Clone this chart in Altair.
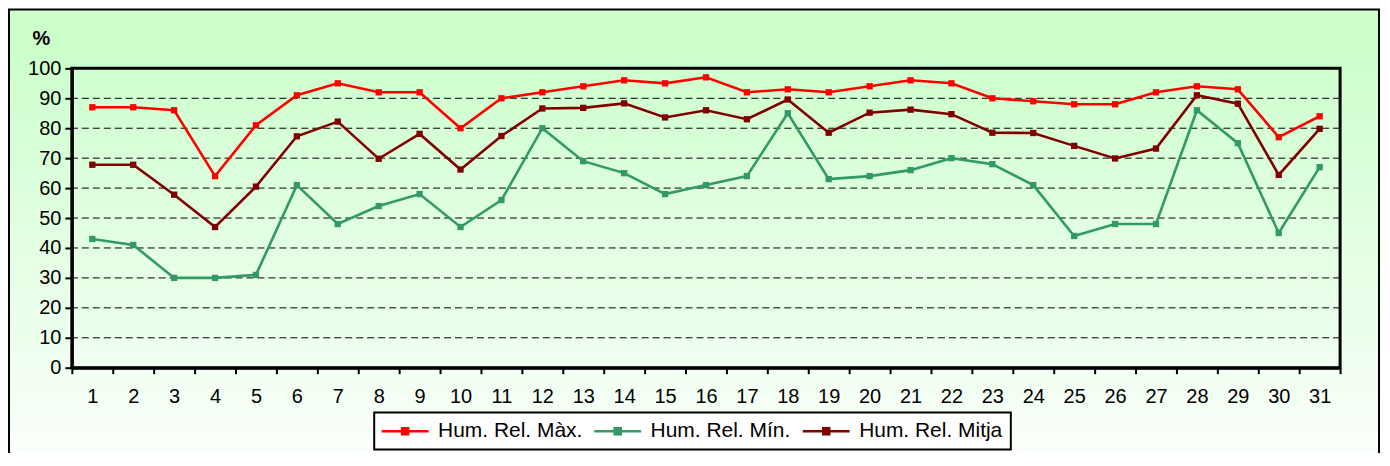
import altair as alt
import pandas as pd

# ---- data ----
days = list(range(1, 32))
hr_max = [87, 87, 86, 64, 81, 91, 95, 92, 92, 80, 90, 92, 94, 96, 95, 97,
          92, 93, 92, 94, 96, 95, 90, 89, 88, 88, 92, 94, 93, 77, 84]
hr_min = [43, 41, 30, 30, 31, 61, 48, 54, 58, 47, 56, 80, 69, 65, 58, 61,
          64, 85, 63, 64, 66, 70, 68, 61, 44, 48, 48, 86, 75, 45, 67]
hr_mean = [67.8, 67.8, 57.8, 47.0, 60.5, 77.3, 82.2, 69.8, 78.1, 66.2, 77.4,
           86.6, 86.8, 88.3, 83.6, 86.0, 83.0, 89.6, 78.5, 85.2, 86.2, 84.7,
           78.5, 78.4, 74.1, 69.9, 73.2, 91.0, 88.2, 64.4, 79.8]
series_names = ["Hum. Rel. Màx.", "Hum. Rel. Mín.", "Hum. Rel. Mitja"]
series_colors = ["#ff0000", "#339966", "#800000"]
y_tick_values = list(range(0, 101, 10))
grid_values = list(range(10, 100, 10))

rows = []
for name, vals in zip(series_names, [hr_max, hr_min, hr_mean]):
    for d, v in zip(days, vals):
        rows.append({"day": d, "series": name, "value": v})
df = pd.DataFrame(rows)

W, H = 1271, 300
FONT = "Liberation Sans"

x_enc = alt.X(
    "day:O",
    scale=alt.Scale(type="band", paddingInner=0, paddingOuter=0),
    axis=alt.Axis(title=None, labelAngle=0, tickBand="extent", tickSize=6,
                  labelPadding=13, zindex=1),
)
y_enc = alt.Y(
    "value:Q",
    scale=alt.Scale(domain=[0, 100], nice=False, zero=True),
    axis=alt.Axis(values=y_tick_values, title="%", titleAngle=0,
                  titleX=-31, titleY=-24, titleAlign="center",
                  titleBaseline="alphabetic", titleFontWeight="bold",
                  titleFontSize=20, titleFont=FONT, titleColor="black",
                  tickSize=7, labelPadding=4, zindex=1),
)

# legend glyph: a line with a small square (unit = 7px)
legend_symbol = "M-1.57,0H5.14M1.36,-0.43H2.22V0.43H1.36Z"
color_scale = alt.Scale(domain=series_names, range=series_colors)

one = alt.Data(values=[{"k": 1}])

background = alt.Chart(one).mark_rect(
    fill=alt.Gradient(
        gradient="linear", x1=0, x2=0, y1=0, y2=1,
        stops=[alt.GradientStop(color="#ccffcc", offset=0),
               alt.GradientStop(color="#ccffcc", offset=0.08),
               alt.GradientStop(color="#ffffff", offset=1)],
    ),
    stroke="black", strokeWidth=2,
).encode(x=alt.value(-63), x2=alt.value(1310), y=alt.value(-59), y2=alt.value(420))

grid = alt.Chart(pd.DataFrame({"value": grid_values})).mark_rule(
    color="black", strokeWidth=1, strokeDash=[7, 4]
).encode(y=y_enc)

border = alt.Chart(one).mark_rect(
    fill="transparent", stroke="black", strokeWidth=3
).encode(x=alt.value(0), x2=alt.value(W), y=alt.value(0), y2=alt.value(H))

lines = alt.Chart(df).mark_line(strokeWidth=2.6).encode(
    x=x_enc, y=y_enc,
    color=alt.Color(
        "series:N", scale=color_scale,
        legend=alt.Legend(
            title=None, orient="none", direction="horizontal",
            legendX=303, legendY=345,
            symbolType=legend_symbol, symbolSize=196, symbolStrokeWidth=2.5,
            labelFont=FONT, labelFontSize=21, labelColor="black",
            labelOffset=35, columnPadding=6, padding=8,
            strokeColor="black", fillColor="white",
        ),
    ),
)

points = alt.Chart(df).mark_point(shape="square", filled=True, size=40, opacity=1).encode(
    x=x_enc, y=y_enc,
    color=alt.Color("series:N", scale=color_scale, legend=None),
)

chart = alt.layer(background, grid, border, lines, points).properties(
    width=W, height=H,
    autosize=alt.AutoSizeParams(type="none"),
    padding={"left": 64, "top": 60, "right": 42, "bottom": 85},
).configure(
    font=FONT,
).configure_axis(
    domainColor="black", domainWidth=3, tickColor="black", tickWidth=2,
    labelFont=FONT, labelFontSize=20, labelColor="black", grid=False,
).configure_view(
    stroke=None,
).configure_legend(
    strokeWidth=2,
)

chart.save("out.html", embed_options={"renderer": "svg", "actions": False})
